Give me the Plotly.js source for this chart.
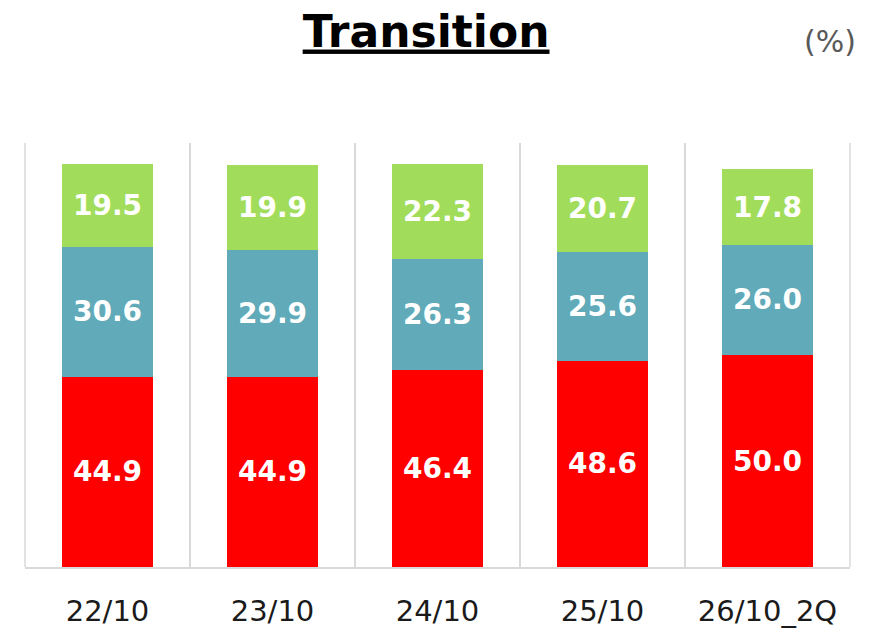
<!DOCTYPE html>
<html>
<head>
<meta charset="utf-8">
<script src="https://cdn.plot.ly/plotly-3.0.1.min.js"></script>
<style>html,body{margin:0;padding:0;background:#fff;}#chart{width:884px;height:629px;}</style>
</head>
<body>
<div id="chart"></div>
<script>
const categories = ["22/10", "23/10", "24/10", "25/10", "26/10_2Q"];
const seriesRed = [44.9, 44.9, 46.4, 48.6, 50.0];
const seriesTeal = [30.6, 29.9, 26.3, 25.6, 26.0];
const seriesGreen = [19.5, 19.9, 22.3, 20.7, 17.8];

const FONT = "DejaVu Sans, Verdana, sans-serif";
function mk(vals, color, name) {
  return {
    type: "bar", x: categories, y: vals, name: name,
    marker: {color: color, line: {width: 0}},
    width: 0.55,
    texttemplate: "%{y:.1f}",
    textposition: "inside",
    insidetextanchor: "middle",
    textangle: 0,
    constraintext: "none",
    textfont: {family: FONT, size: 28, color: "#ffffff", weight: "bold"},
    hoverinfo: "skip"
  };
}
const data = [
  mk(seriesRed, "#FF0000", "A"),
  mk(seriesTeal, "#60AAB9", "B"),
  mk(seriesGreen, "#A1DD5B", "C")
];
const layout = {
  width: 884, height: 629,
  barmode: "stack",
  showlegend: false,
  paper_bgcolor: "#ffffff", plot_bgcolor: "#ffffff",
  margin: {l: 25, r: 34, t: 143, b: 62},
  font: {family: FONT},
  title: {
    text: '<b><span style="text-decoration:underline">Transition</span></b>',
    font: {family: FONT, size: 44, color: "#000000"},
    x: 0.482, xref: "container", xanchor: "center",
    y: 0.975, yref: "container", yanchor: "top"
  },
  xaxis: {
    type: "category",
    tickson: "boundaries",
    showgrid: true, gridcolor: "#d9d9d9", gridwidth: 1.5,
    showline: true, linecolor: "#d9d9d9", linewidth: 1.5,
    ticks: "", ticklen: 0,
    ticklabelstandoff: 18,
    tickfont: {family: FONT, size: 29, color: "#1a1a1a"},
    automargin: false
  },
  yaxis: {
    range: [0, 100], showgrid: false, showticklabels: false, zeroline: false, showline: false,
    fixedrange: true
  },
  shapes: [
    {type: "line", xref: "paper", yref: "paper", x0: 0, x1: 0, y0: 0, y1: 1, line: {color: "#d9d9d9", width: 1.5}},
    {type: "line", xref: "paper", yref: "paper", x0: 1, x1: 1, y0: 0, y1: 1, line: {color: "#d9d9d9", width: 1.5}}
  ],
  annotations: [{
    text: "(%)", xref: "paper", yref: "paper", x: 1.0, y: 1.0,
    xanchor: "right", yanchor: "bottom",
    yshift: 82, xshift: 8, showarrow: false,
    font: {family: FONT, size: 30, color: "#595959"}
  }]
};
Plotly.newPlot("chart", data, layout, {staticPlot: true});
</script>
</body>
</html>
